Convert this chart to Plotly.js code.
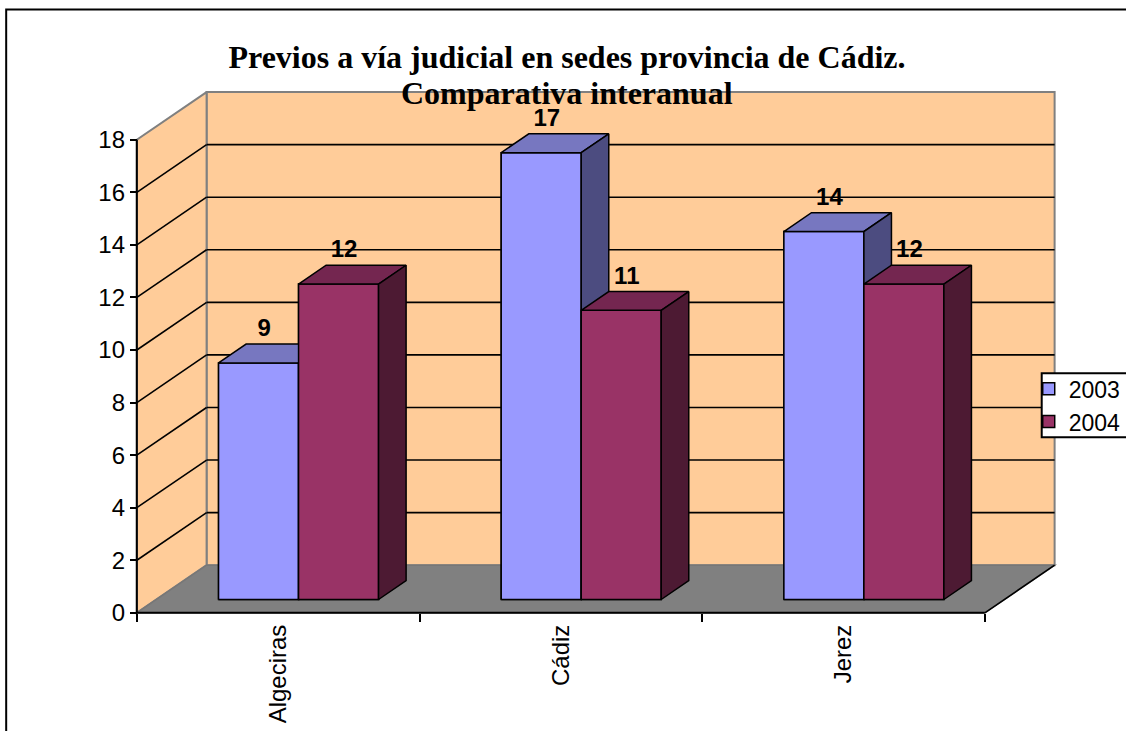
<!DOCTYPE html>
<html><head><meta charset="utf-8">
<script src="https://cdn.plot.ly/plotly-3.0.1.min.js"></script>
<style>html,body{margin:0;padding:0;background:#fff;overflow:hidden}#chart{width:1126px;height:731px}</style>
</head><body><div id="chart"></div><script>
// ---- data ----
const categories = ['Algeciras', 'Cádiz', 'Jerez'];
const seriesNames = ['2003', '2004'];
const values2003 = [9, 17, 14];
const values2004 = [12, 11, 12];
const yTickVals = [0, 2, 4, 6, 8, 10, 12, 14, 16, 18];
const titleLines = ['Previos a vía judicial en sedes provincia de Cádiz.', 'Comparativa interanual'];

// ---- styling / geometry (not data) ----
const W = 1126, H = 731;
const PX_X0 = 136.7, PX_CAT = 282.8;     // pixel of x=0, pixels per category
const PX_Y0 = 612.7, PX_UNIT = 26.3;     // pixel of y=0, pixels per value unit
const DEPTH_X = 69.8 / PX_CAT, DEPTH_Y = 47.7 / PX_UNIT;  // 3-D depth vector in data units
const F1 = 0.28, F2 = 0.675;             // bar front / back depth fractions
const BAR_LEFT = 0.22, BAR_W = 0.283;    // bar offset in category and width
const LABEL_DEPTH = 0.36, LABEL_DY = 1.75;
const nCat = categories.length;
const yTop = yTickVals[yTickVals.length - 1];
const xMin = -0.01, xMax = nCat + DEPTH_X + 0.012;
const yMin = -0.12, yMax = yTop + DEPTH_Y + 0.04;

const mL = PX_X0 + xMin * PX_CAT;
const plotW = (xMax - xMin) * PX_CAT;
const mR = W - mL - plotW;
const plotBottom = PX_Y0 - yMin * PX_UNIT;
const mT = PX_Y0 - yMax * PX_UNIT;
const mB = H - plotBottom;
const plotH = plotBottom - mT;
const paperX = px => (px - mL) / plotW;
const paperY = py => (plotBottom - py) / plotH;

const seriesValues = [values2003, values2004];
const frontColors = ['#9999FF', '#993366'];
const topColors = ['#7777C0', '#742650'];
const sideColors = ['#4C4C80', '#4D1A33'];
const WALL = '#FFCC99', FLOOR = '#808080', EDGE = '#808080';
const FONT = 'Liberation Sans, Arial, sans-serif';
const TITLE_FONT = {family: 'Liberation Serif, Times New Roman, serif', size: 32, color: '#000', weight: 'bold'};

// ---- chrome shapes: walls, floor, gridlines ----
const shapes = [];
function poly(pts) { return 'M' + pts.map(p => p[0] + ',' + p[1]).join('L') + 'Z'; }
// back wall
shapes.push({type: 'path', layer: 'below', xref: 'x', yref: 'y',
  path: poly([[DEPTH_X, DEPTH_Y], [nCat + DEPTH_X, DEPTH_Y], [nCat + DEPTH_X, yTop + DEPTH_Y], [DEPTH_X, yTop + DEPTH_Y]]),
  fillcolor: WALL, line: {color: EDGE, width: 2}});
// left wall
shapes.push({type: 'path', layer: 'below', xref: 'x', yref: 'y',
  path: poly([[0, 0], [DEPTH_X, DEPTH_Y], [DEPTH_X, yTop + DEPTH_Y], [0, yTop]]),
  fillcolor: WALL, line: {color: EDGE, width: 2}});
// floor
shapes.push({type: 'path', layer: 'below', xref: 'x', yref: 'y',
  path: poly([[0, 0], [nCat, 0], [nCat + DEPTH_X, DEPTH_Y], [DEPTH_X, DEPTH_Y]]),
  fillcolor: FLOOR, line: {color: '#777777', width: 1.5}});
// gridlines
yTickVals.forEach(v => {
  if (v === 0 || v === yTop) return;
  shapes.push({type: 'line', layer: 'below', xref: 'x', yref: 'y', x0: DEPTH_X, y0: v + DEPTH_Y, x1: nCat + DEPTH_X, y1: v + DEPTH_Y, line: {color: '#000', width: 1.6}});
  shapes.push({type: 'line', layer: 'below', xref: 'x', yref: 'y', x0: 0, y0: v, x1: DEPTH_X, y1: v + DEPTH_Y, line: {color: '#000', width: 1.6}});
});
// floor front & right edges, y axis line
shapes.push({type: 'line', layer: 'below', xref: 'x', yref: 'y', x0: 0, y0: 0, x1: nCat, y1: 0, line: {color: '#000', width: 2}});
shapes.push({type: 'line', layer: 'below', xref: 'x', yref: 'y', x0: nCat, y0: 0, x1: nCat + DEPTH_X, y1: DEPTH_Y, line: {color: '#000', width: 1.6}});
shapes.push({type: 'line', layer: 'below', xref: 'x', yref: 'y', x0: 0, y0: 0, x1: 0, y1: yTop, line: {color: '#000', width: 2}});
// outer chart border
shapes.push({type: 'rect', layer: 'above', xref: 'paper', yref: 'paper',
  x0: paperX(6), x1: paperX(W + 20), y0: paperY(H + 20), y1: paperY(9),
  fillcolor: 'rgba(0,0,0,0)', line: {color: '#000', width: 2}});
// legend frame
shapes.push({type: 'rect', layer: 'above', xref: 'paper', yref: 'paper',
  x0: paperX(1042), x1: paperX(W + 20), y0: paperY(437), y1: paperY(373),
  fillcolor: '#fff', line: {color: '#000', width: 2}});

// ---- traces ----
const traces = [];
const catIndex = categories.map((c, i) => i);
// legend-carrying real bars (front faces), covered exactly by polygons below
seriesNames.forEach((name, s) => {
  traces.push({type: 'bar', name: name,
    x: catIndex.map(i => i + BAR_LEFT + s * BAR_W + BAR_W / 2 + F1 * DEPTH_X),
    y: seriesValues[s], base: seriesValues[s].map(() => F1 * DEPTH_Y), width: BAR_W,
    marker: {color: frontColors[s], line: {color: '#000', width: 1.5}},
    hoverinfo: 'skip', showlegend: true});
});
// 3-D faces
const ddx = (F2 - F1) * DEPTH_X, ddy = (F2 - F1) * DEPTH_Y;
seriesNames.forEach((name, s) => {
  const faces = {front: [[], []], top: [[], []], side: [[], []]};
  seriesValues[s].forEach((v, i) => {
    const x0 = i + BAR_LEFT + s * BAR_W + F1 * DEPTH_X, x1 = x0 + BAR_W;
    const y0 = F1 * DEPTH_Y, y1 = v + F1 * DEPTH_Y;
    const add = (key, pts) => {
      pts.forEach(p => { faces[key][0].push(p[0]); faces[key][1].push(p[1]); });
      faces[key][0].push(null); faces[key][1].push(null);
    };
    add('front', [[x0, y0], [x1, y0], [x1, y1], [x0, y1], [x0, y0]]);
    add('top', [[x0, y1], [x1, y1], [x1 + ddx, y1 + ddy], [x0 + ddx, y1 + ddy], [x0, y1]]);
    add('side', [[x1, y0], [x1 + ddx, y0 + ddy], [x1 + ddx, y1 + ddy], [x1, y1], [x1, y0]]);
  });
  [['front', frontColors[s]], ['top', topColors[s]], ['side', sideColors[s]]].forEach(([key, col]) => {
    traces.push({type: 'scatter', mode: 'lines', x: faces[key][0], y: faces[key][1],
      fill: 'toself', fillcolor: col, line: {color: '#000', width: 1.5},
      hoverinfo: 'skip', showlegend: false});
  });
});
// value labels
seriesNames.forEach((name, s) => {
  traces.push({type: 'scatter', mode: 'text', xaxis: 'x2',
    x: catIndex.map(i => i + BAR_LEFT + s * BAR_W + BAR_W / 2 + LABEL_DEPTH * DEPTH_X),
    y: seriesValues[s].map(v => v + LABEL_DY),
    text: seriesValues[s].map(String), textposition: 'middle center',
    textfont: {family: FONT, size: 24, color: '#000', weight: 'bold'},
    cliponaxis: false, hoverinfo: 'skip', showlegend: false});
});

const layout = {
  width: W, height: H,
  paper_bgcolor: '#fff', plot_bgcolor: 'rgba(0,0,0,0)',
  margin: {l: mL, r: mR, t: mT, b: mB, pad: 0, autoexpand: false},
  barmode: 'overlay',
  title: {text: titleLines[0], font: TITLE_FONT,
    xref: 'container', yref: 'container', x: 567 / W, xanchor: 'center', y: 1 - 57 / H, yanchor: 'middle', pad: {t: 0, b: 0, l: 0, r: 0}},
  annotations: [{text: titleLines[1], font: TITLE_FONT, xref: 'paper', yref: 'paper',
    x: paperX(567), y: paperY(93), xanchor: 'center', yanchor: 'middle', showarrow: false}],
  xaxis: {range: [xMin, xMax], anchor: 'free', position: (0 - yMin) / (yMax - yMin),
    tickmode: 'array', tickvals: catIndex.concat([nCat]), showticklabels: false,
    ticks: 'outside', ticklen: 8, tickwidth: 2, tickcolor: '#000',
    showgrid: false, zeroline: false, showline: false, fixedrange: true},
  xaxis2: {range: [xMin, xMax], overlaying: 'x', anchor: 'free', position: (0 - yMin) / (yMax - yMin),
    tickmode: 'array', tickvals: catIndex.map(i => i + 0.5), ticktext: categories,
    tickangle: -90, ticks: '', tickfont: {family: FONT, size: 24, color: '#000'}, ticklabelstandoff: 6,
    showgrid: false, zeroline: false, showline: false, fixedrange: true},
  yaxis: {range: [yMin, yMax], anchor: 'free', position: (0 - xMin) / (xMax - xMin),
    tickmode: 'array', tickvals: yTickVals, ticktext: yTickVals.map(String),
    ticks: 'outside', ticklen: 7, tickwidth: 2, tickcolor: '#000',
    tickfont: {family: FONT, size: 24, color: '#000'},
    showgrid: false, zeroline: false, showline: false, fixedrange: true},
  legend: {x: paperX(1029), xanchor: 'left', y: paperY(405), yanchor: 'middle',
    bgcolor: 'rgba(0,0,0,0)', borderwidth: 0,
    font: {family: FONT, size: 23, color: '#000'}, traceorder: 'normal'},
  shapes: shapes,
  showlegend: true
};

Plotly.newPlot('chart', traces, layout, {staticPlot: true, displayModeBar: false});
</script></body></html>
